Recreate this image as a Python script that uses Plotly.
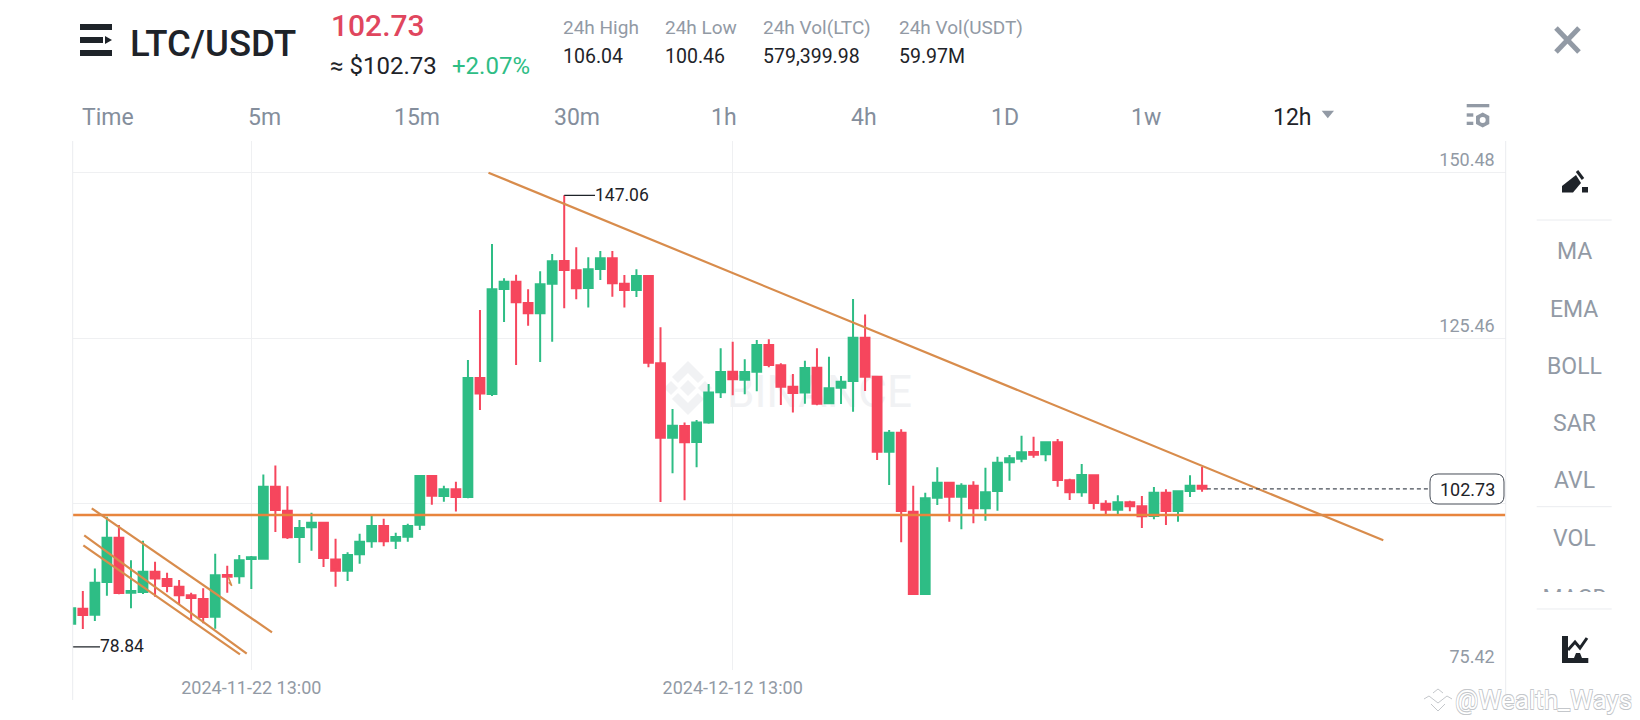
import pandas as pd
import plotly.graph_objects as go

W, H = 1640, 720

# candles, 12h, left to right
open_prices = [82.36, 84.62, 83.72, 88.65, 95.35, 87.04, 87.14, 90.21, 89.10, 87.94, 86.64, 86.08, 83.41, 89.71, 89.51, 92.12,
               92.17, 103.05, 99.42, 95.45, 96.91, 97.61, 92.07, 90.36, 92.83, 94.79, 97.11, 94.89, 95.50, 97.31, 104.66, 101.64,
               102.65, 101.49, 119.47, 117.05, 132.92, 134.02, 130.80, 129.24, 133.72, 137.14, 135.73, 133.07, 135.94, 137.55, 133.72, 132.76,
               134.88, 121.69, 110.46, 112.22, 109.80, 112.73, 117.31, 120.43, 119.22, 120.43, 124.46, 121.39, 118.16, 117.26, 121.03, 115.64,
               118.01, 119.01, 125.56, 119.67, 108.34, 111.21, 99.28, 86.84, 101.39, 103.66, 101.54, 103.20, 99.78, 102.40, 106.73, 107.28,
               108.29, 107.94, 109.75, 104.01, 102.20, 104.77, 100.49, 99.58, 100.69, 100.08, 98.62, 102.15, 99.38, 102.40, 103.20]
high_prices = [84.67, 87.29, 90.71, 98.52, 97.26, 91.92, 94.89, 91.72, 90.06, 88.95, 87.04, 87.69, 92.93, 91.12, 92.73, 92.58,
               104.91, 106.27, 103.10, 98.01, 99.12, 97.76, 95.20, 93.13, 95.95, 98.72, 98.22, 96.10, 97.46, 104.71, 104.81, 103.20,
               103.80, 122.19, 129.74, 139.71, 134.53, 135.08, 132.86, 135.58, 138.20, 147.06, 139.21, 137.70, 138.66, 138.66, 135.03, 135.89,
               134.98, 127.12, 114.79, 112.73, 113.13, 118.57, 123.95, 124.96, 122.29, 125.21, 125.31, 121.69, 120.08, 122.09, 123.95, 122.69,
               119.77, 131.40, 129.08, 119.80, 111.61, 111.71, 103.20, 102.15, 105.97, 103.70, 103.56, 103.86, 105.92, 107.59, 107.84, 110.76,
               110.61, 109.85, 110.25, 104.26, 106.48, 104.92, 100.99, 101.74, 100.94, 101.64, 103.00, 102.65, 102.35, 104.77, 106.04]
low_prices = [82.36, 81.55, 82.76, 86.59, 86.80, 84.67, 86.84, 86.43, 87.09, 85.28, 82.91, 82.41, 81.60, 87.04, 88.40, 87.59,
              92.00, 96.20, 95.14, 91.52, 93.38, 90.92, 87.94, 88.80, 91.42, 93.84, 94.04, 93.63, 94.74, 96.50, 100.33, 100.78,
              99.32, 101.30, 114.64, 116.75, 127.93, 121.43, 127.38, 121.89, 124.96, 130.00, 131.35, 130.10, 134.27, 131.76, 130.10, 131.71,
              121.08, 100.74, 105.07, 101.00, 105.98, 112.57, 116.45, 116.85, 117.00, 117.46, 121.08, 115.39, 114.24, 115.59, 115.34, 115.50,
              115.54, 114.38, 117.50, 107.08, 103.30, 94.64, 86.84, 86.84, 100.28, 97.77, 96.61, 97.51, 97.92, 99.43, 103.96, 106.73,
              107.43, 106.88, 103.05, 101.04, 101.54, 99.63, 98.77, 98.72, 99.33, 96.81, 98.12, 97.26, 97.77, 101.49, 102.30]
close_prices = [84.67, 83.66, 88.55, 95.35, 86.99, 87.29, 90.21, 89.20, 88.05, 86.64, 86.23, 83.36, 89.66, 89.46, 91.92, 92.38,
                103.05, 99.53, 95.40, 96.81, 97.61, 92.28, 90.36, 92.73, 94.74, 97.11, 94.79, 95.45, 97.11, 104.66, 101.69, 102.65,
                101.49, 119.47, 117.11, 132.86, 134.02, 130.90, 129.24, 133.62, 137.09, 135.78, 133.02, 135.89, 137.55, 133.77, 132.76, 134.88,
                121.79, 110.46, 112.27, 109.75, 112.73, 117.26, 120.38, 119.27, 120.38, 124.46, 121.44, 118.16, 117.21, 120.98, 115.59, 117.91,
                118.91, 125.56, 119.67, 108.34, 111.21, 99.38, 86.84, 101.29, 103.66, 101.54, 103.20, 99.78, 102.20, 106.68, 107.33, 108.24,
                107.89, 109.75, 104.06, 102.20, 104.82, 100.59, 99.58, 100.69, 100.08, 98.57, 102.15, 99.38, 102.35, 103.20, 102.73]

candle_dates = pd.date_range("2024-11-15 01:00", periods=len(open_prices), freq="12h")

# axis
date_ticks = ["2024-11-22 13:00", "2024-12-12 13:00"]
date_range = ["2024-11-15 02:54", "2025-01-13 15:46"]
price_ticks = [75.42, 100.44, 125.46, 150.48]
price_tick_text = ["75.42", "", "125.46", "150.48"]
price_range = [75.42, 155.27]

# hand drawn lines on the chart
support_price = 98.77
trend_dates = ["2024-12-02 09:30", "2025-01-08 13:43"]
trend_prices = [150.48, 94.95]
channel_a_dates = ["2024-11-15 21:54", "2024-11-23 09:38"]
channel_a_prices = [99.78, 81.05]
channel_b_dates = ["2024-11-15 14:24", "2024-11-22 08:26"]
channel_b_prices = [95.71, 77.82]
channel_c_dates = ["2024-11-15 13:30", "2024-11-22 01:42"]
channel_c_prices = [94.20, 77.73]
arrow_dates = ["2024-11-21 14:06", "2024-11-21 17:30", "2024-11-21 14:30"]
arrow_prices = [89.41, 88.09, 88.60]

# markers for high, low, last
last_price = 102.73
high_price = 147.06
low_price = 78.84
high_leader_dates = ["2024-12-05 13:00", "2024-12-06 19:43"]
low_leader_dates = ["2024-11-15 01:00", "2024-11-16 06:06"]
last_leader_dates = ["2025-01-01 05:48", "2025-01-10 10:20"]

# header and menus
stat_names = ["24h High", "24h Low", "24h Vol(LTC)", "24h Vol(USDT)"]
stat_values = ["106.04", "100.46", "579,399.98", "59.97M"]
tab_names = ["Time", "5m", "15m", "30m", "1h", "4h", "1D", "1w"]
side_names = ["MA", "EMA", "BOLL", "SAR", "AVL", "VOL"]

FONT = "Roboto"
GREEN = "#2ebd85"
RED = "#f6465d"
DARK = "#1e2329"
GRAY = "#929aa5"
GRID = "#eff0f2"
ORANGE = "#d88c4c"


def px(x):
    return x / W


def py(y):
    return 1 - y / H


def poly(points):
    return "M " + " L ".join(f"{px(x):.5f},{py(y):.5f}" for x, y in points) + " Z"


def add_text(fig, text, x, y, size, color, anchor="left", weight=None, shadow=None):
    font = dict(family=FONT, size=size, color=color)
    if weight:
        font["weight"] = weight
    if shadow:
        font["shadow"] = shadow
    fig.add_annotation(text=text, x=px(x), y=py(y), xref="paper", yref="paper", xanchor=anchor,
                       yanchor="middle", showarrow=False, font=font, borderpad=0)


def add_box(fig, x0, y0, x1, y1, color, layer="above"):
    fig.add_shape(type="rect", xref="paper", yref="paper", x0=px(x0), x1=px(x1), y0=py(y0), y1=py(y1),
                  fillcolor=color, line_width=0, layer=layer)


def add_path(fig, points, color, layer="above"):
    fig.add_shape(type="path", xref="paper", yref="paper", path=poly(points), fillcolor=color,
                  line_width=0, layer=layer)


def add_stroke(fig, points, color, width, layer="above"):
    path = "M " + " L ".join(f"{px(x):.5f},{py(y):.5f}" for x, y in points)
    fig.add_shape(type="path", xref="paper", yref="paper", path=path, line=dict(color=color, width=width), layer=layer)


def line_trace(x, y, color, width, dash="solid"):
    return go.Scatter(x=x, y=y, mode="lines", line=dict(color=color, width=width, dash=dash),
                      hoverinfo="skip", showlegend=False)


fig = go.Figure()

fig.add_trace(go.Candlestick(
    x=candle_dates, open=open_prices, high=high_prices, low=low_prices, close=close_prices,
    increasing=dict(line=dict(color=GREEN, width=2), fillcolor=GREEN),
    decreasing=dict(line=dict(color=RED, width=2), fillcolor=RED),
    whiskerwidth=0, showlegend=False,
))

fig.add_trace(line_trace(date_range, [support_price, support_price], "#e8853d", 2.4))
fig.add_trace(line_trace(trend_dates, trend_prices, ORANGE, 2.2))
fig.add_trace(line_trace(channel_a_dates, channel_a_prices, ORANGE, 2.2))
fig.add_trace(line_trace(channel_b_dates, channel_b_prices, ORANGE, 2.2))
fig.add_trace(line_trace(channel_c_dates, channel_c_prices, ORANGE, 2.2))
fig.add_trace(line_trace(arrow_dates, arrow_prices, ORANGE, 1.5))
fig.add_trace(line_trace(high_leader_dates, [high_price, high_price], DARK, 1.2))
fig.add_trace(line_trace(low_leader_dates, [low_price, low_price], DARK, 1.2))
fig.add_trace(line_trace(last_leader_dates, [last_price, last_price], "#474d57", 1.2, "4px,3px"))

# MACD is cut off by the scroll area of the side menu, so it sits on its own clipped axes
fig.add_trace(go.Scatter(x=[1575], y=[600], mode="text", text=["MACD"], xaxis="x2", yaxis="y2",
                         textfont=dict(family=FONT, size=23, color=GRAY), hoverinfo="skip", showlegend=False))

fig.update_layout(
    width=W, height=H, autosize=False,
    margin=dict(l=0, r=0, t=0, b=0),
    paper_bgcolor="white", plot_bgcolor="white",
    showlegend=False, boxgap=0.27, boxgroupgap=0,
    xaxis=dict(
        domain=[px(72.7), px(1505.7)], type="date", range=date_range, rangeslider=dict(visible=False),
        tickvals=date_ticks, tickformat="%Y-%m-%d %H:%M", ticks="", ticklabelstandoff=5,
        tickfont=dict(family=FONT, size=18, color=GRAY),
        showgrid=True, gridcolor=GRID, gridwidth=1, zeroline=False, showline=False,
    ),
    yaxis=dict(
        domain=[py(669.6), py(141)], range=price_range, side="right",
        tickvals=price_ticks, ticktext=price_tick_text, ticks="", ticklabelposition="inside top",
        ticklabelstandoff=8, tickfont=dict(family=FONT, size=18, color=GRAY),
        showgrid=True, gridcolor=GRID, gridwidth=1, zeroline=False, showline=False,
    ),
    xaxis2=dict(domain=[px(1535), px(1615)], range=[1535, 1615], visible=False, anchor="y2"),
    yaxis2=dict(domain=[py(592), py(570)], range=[592, 570], visible=False, anchor="x2"),
)

# frame of the chart
add_stroke(fig, [(72.7, 141), (72.7, 700)], "#eaecef", 1)
add_stroke(fig, [(1505.7, 141), (1505.7, 700)], "#eaecef", 1)

# faint BINANCE mark behind the candles
LOGO = "#f1f2f4"
cx, cy = 688, 388
add_path(fig, [(cx, cy - 8), (cx + 8, cy), (cx, cy + 8), (cx - 8, cy)], LOGO, "below")
add_path(fig, [(cx - 24, cy), (cx - 17, cy - 7), (cx - 10, cy), (cx - 17, cy + 7)], LOGO, "below")
add_path(fig, [(cx + 24, cy), (cx + 17, cy - 7), (cx + 10, cy), (cx + 17, cy + 7)], LOGO, "below")
add_path(fig, [(cx, cy - 27), (cx + 16, cy - 11), (cx + 10, cy - 5), (cx, cy - 15), (cx - 10, cy - 5), (cx - 16, cy - 11)], LOGO, "below")
add_path(fig, [(cx, cy + 27), (cx + 16, cy + 11), (cx + 10, cy + 5), (cx, cy + 15), (cx - 10, cy + 5), (cx - 16, cy + 11)], LOGO, "below")
fig.add_shape(type="rect", xref="paper", yref="paper", x0=px(725), x1=px(914), y0=py(410), y1=py(368),
              line_width=0, layer="below", label=dict(text="BINANCE", textposition="middle center",
                                                      font=dict(family=FONT, size=44, color=LOGO)))

# pair name and price
add_box(fig, 80, 24, 112, 30, DARK)
add_box(fig, 80, 37, 103, 43, DARK)
add_path(fig, [(105, 36), (112, 40), (105, 44)], DARK)
add_box(fig, 80, 50, 112, 56, DARK)
add_text(fig, "LTC/USDT", 128.5, 43, 36.5, DARK, weight=500)
add_text(fig, "102.73", 330, 26, 30, "#e0465e", weight=500)
add_text(fig, "≈ $102.73", 329, 66, 24, DARK)
add_text(fig, "+2.07%", 451, 66, 24, GREEN)

for name, value, x in zip(stat_names, stat_values, [561.5, 664, 762.3, 897.5]):
    add_text(fig, name, x, 28, 19, GRAY)
    add_text(fig, value, x, 56.7, 19.5, DARK)

# interval tabs
for name, x in zip(tab_names, [80.6, 247, 393, 553, 710, 850, 990, 1130]):
    add_text(fig, name, x, 117.7, 23, "#848e9c")
add_text(fig, "12h", 1272, 117.7, 23, DARK)
add_path(fig, [(1321.7, 110.7), (1334, 110.7), (1327.8, 118.3)], GRAY)

# settings icon
add_box(fig, 1466.7, 104, 1489.3, 107.3, GRAY)
add_box(fig, 1466.7, 113.3, 1473.3, 116.7, GRAY)
add_box(fig, 1466.7, 121.7, 1473.3, 125, GRAY)
add_path(fig, [(1482.7, 112.5), (1489.3, 116), (1489.3, 124), (1482.7, 127.5), (1476, 124), (1476, 116)], GRAY)
fig.add_shape(type="circle", xref="paper", yref="paper", x0=px(1479.7), x1=px(1485.7), y0=py(123), y1=py(117),
              fillcolor="white", line_width=0)

# close button
add_stroke(fig, [(1556, 28), (1579, 52)], GRAY, 5)
add_stroke(fig, [(1579, 28), (1556, 52)], GRAY, 5)

# side menu
add_path(fig, [(1562, 192.5), (1562, 186), (1576, 175), (1581, 183), (1573, 192.5)], DARK)
add_stroke(fig, [(1577, 171), (1583, 179)], DARK, 3)
add_box(fig, 1582, 187, 1588, 192.5, DARK)
for y in [220, 506.7, 609]:
    add_stroke(fig, [(1536.7, y), (1611.7, y)], "#eaecef", 1)
for name, y in zip(side_names, [252, 309.5, 366, 423, 480.5, 538]):
    add_text(fig, name, 1574, y, 23, GRAY, anchor="center")

# chart icon
add_box(fig, 1562, 636, 1568, 663, DARK)
add_box(fig, 1562, 658, 1588.3, 663, DARK)
add_stroke(fig, [(1568, 650), (1575, 642), (1580, 648), (1587, 638)], DARK, 3)
add_path(fig, [(1576, 653), (1580, 653), (1582, 658), (1574, 658)], DARK)

# price labels
add_text(fig, "147.06", 594, 195, 17.5, DARK)
add_text(fig, "78.84", 98.5, 646, 17.5, DARK)
fig.add_shape(type="path", xref="paper", yref="paper", fillcolor="white", line=dict(color="#474d57", width=1),
              path=("M " + f"{px(1438):.5f},{py(474):.5f} L {px(1496):.5f},{py(474):.5f} "
                    f"Q {px(1504):.5f},{py(474):.5f} {px(1504):.5f},{py(482):.5f} L {px(1504):.5f},{py(496):.5f} "
                    f"Q {px(1504):.5f},{py(504):.5f} {px(1496):.5f},{py(504):.5f} L {px(1438):.5f},{py(504):.5f} "
                    f"Q {px(1430):.5f},{py(504):.5f} {px(1430):.5f},{py(496):.5f} L {px(1430):.5f},{py(482):.5f} "
                    f"Q {px(1430):.5f},{py(474):.5f} {px(1438):.5f},{py(474):.5f} Z"))
add_text(fig, "102.73", 1467, 489, 18, DARK, anchor="center")

# repost watermark, bottom right
OUTLINE = "#c4c7cb"
outline = ", ".join(f"{a}px {b}px 0 {OUTLINE}" for a, b in [(-0.6, -0.6), (0.6, -0.6), (-0.6, 0.6), (0.6, 0.6)])
add_text(fig, "@Wealth_Ways", 1454, 700, 26, "white", shadow=outline)
add_stroke(fig, [(1433, 693), (1438, 689), (1443, 693)], OUTLINE, 1)
add_stroke(fig, [(1424, 699), (1429, 696), (1438, 703), (1447, 696), (1452, 699)], OUTLINE, 1)
add_stroke(fig, [(1431, 704), (1438, 711), (1445, 704)], OUTLINE, 1)

# page margin would push everything 8px off
fig.write_html("out.html", config={"displayModeBar": False}, post_script="document.body.style.margin = '0';")
